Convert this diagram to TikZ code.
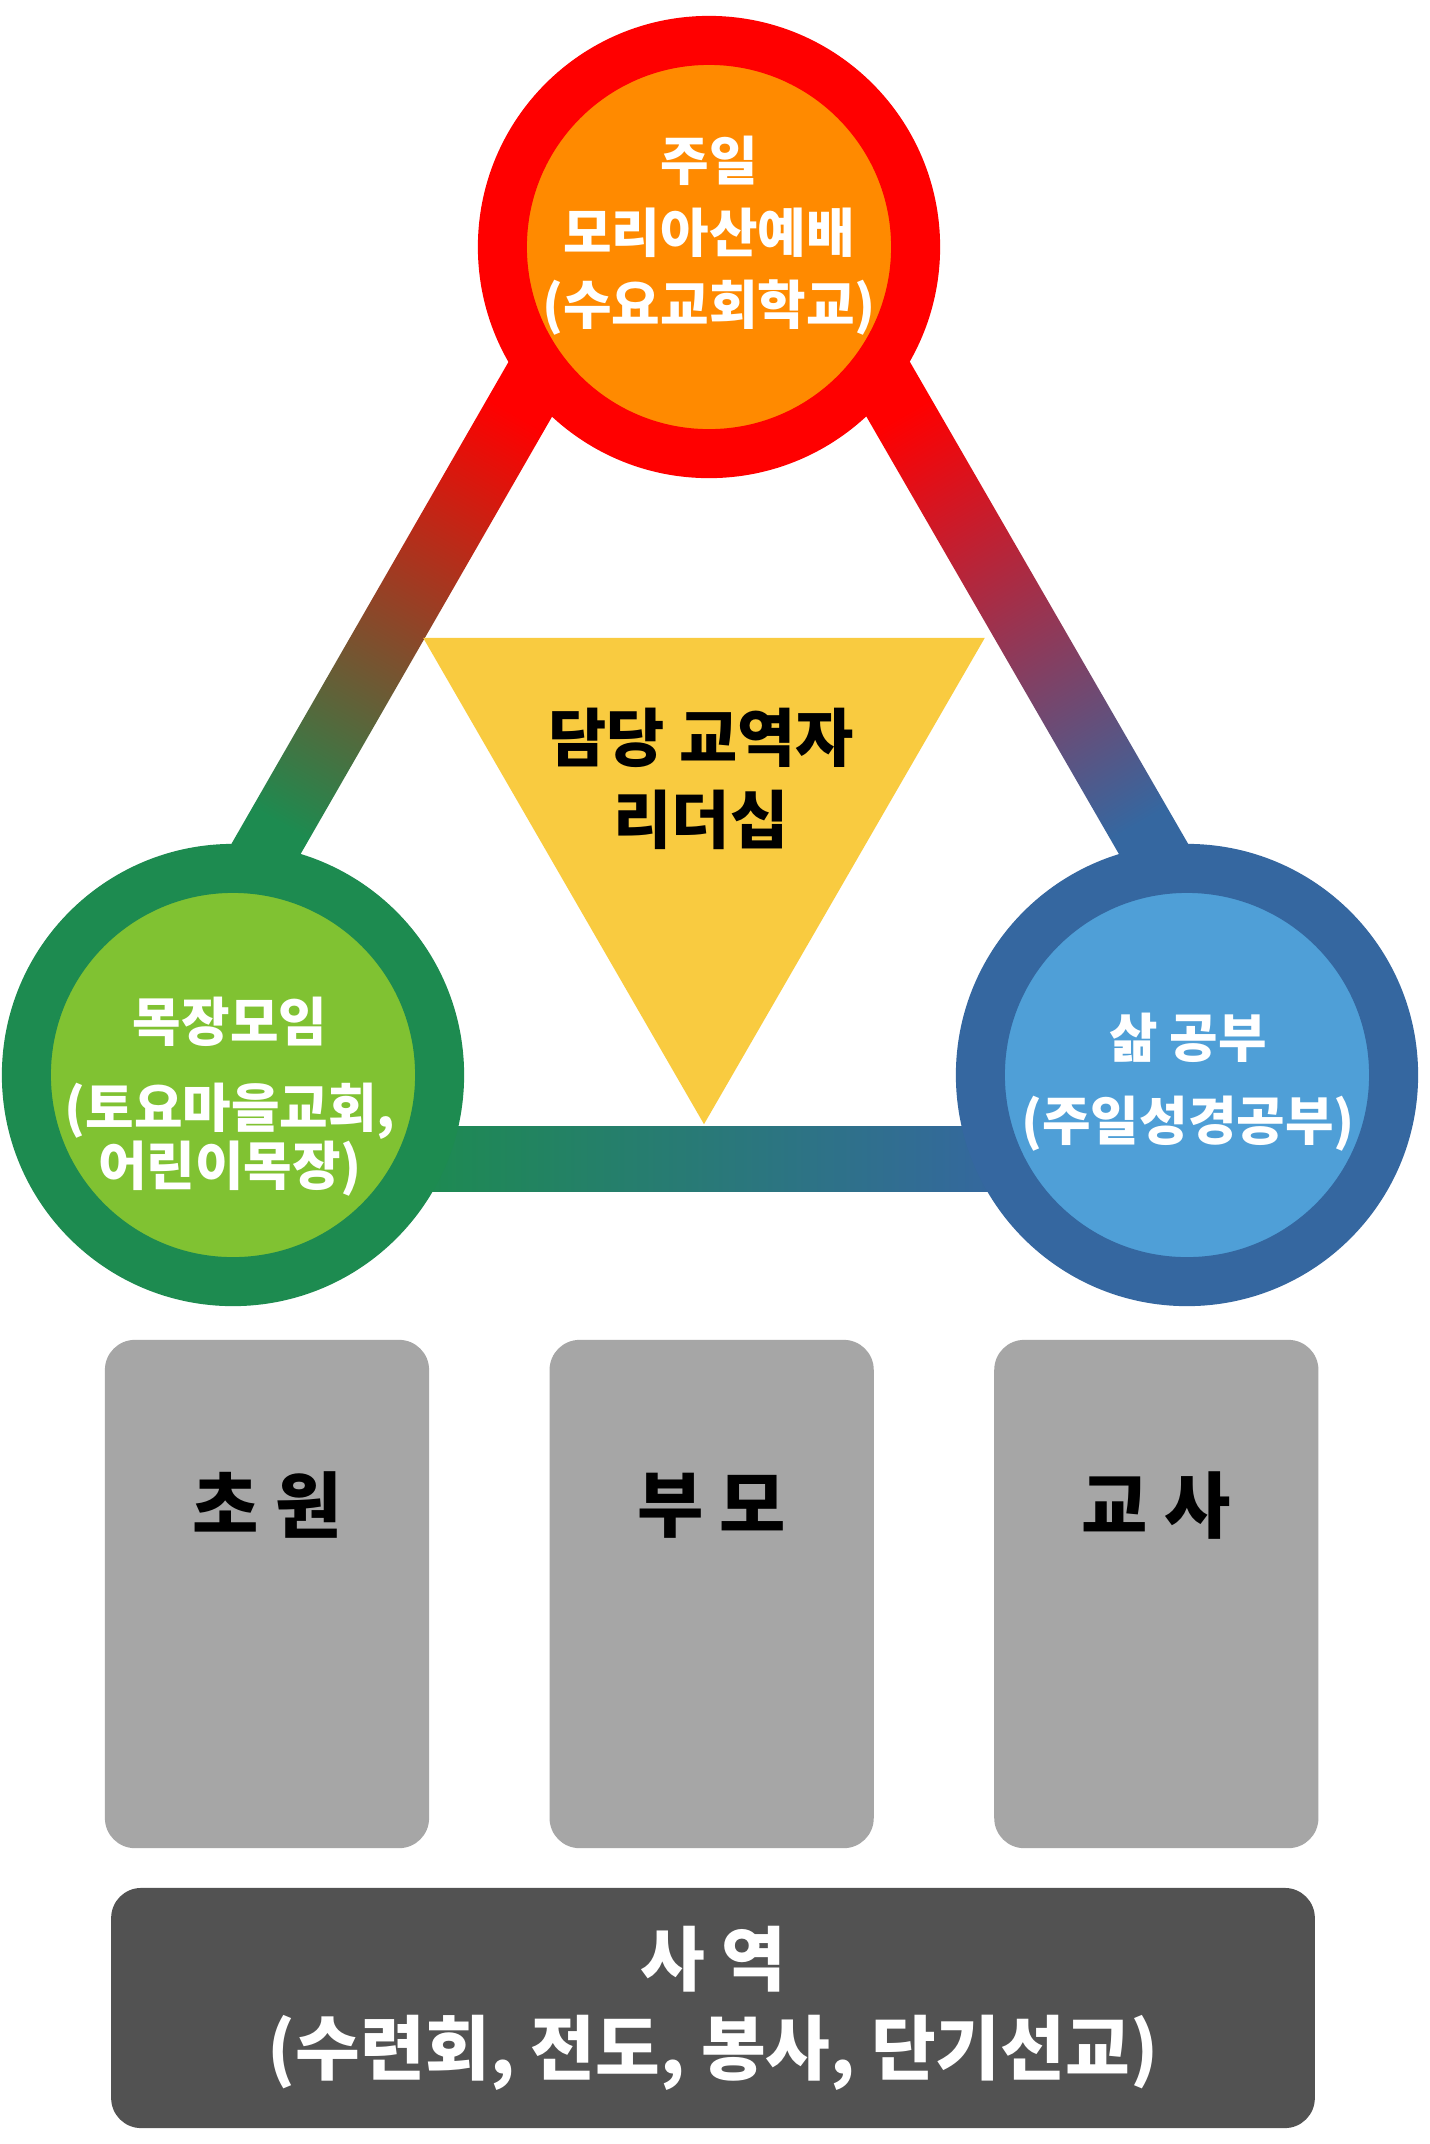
\documentclass[tikz,border=0pt]{standalone}
\usepackage{fontspec}
\usepackage{tikz}
\usetikzlibrary{positioning,calc,shapes.geometric,backgrounds}
\setmainfont{Noto Sans CJK KR}
\definecolor{RingRed}{RGB}{255,0,0}
\definecolor{CoreOrange}{RGB}{255,138,0}
\definecolor{RingGreen}{RGB}{29,139,80}
\definecolor{CoreGreen}{RGB}{128,194,50}
\definecolor{RingBlue}{RGB}{53,103,160}
\definecolor{CoreBlue}{RGB}{79,159,215}
\definecolor{LeadGold}{RGB}{249,203,64}
\definecolor{PillarGray}{RGB}{166,166,166}
\definecolor{BaseGray}{RGB}{82,82,82}

\begin{document}
\begin{tikzpicture}[
  x=0.01cm, y=-0.01cm,
  ring/.style={circle, line width=0.49cm, minimum size=4.13cm, inner sep=0pt},
  ringtxt/.style={text=white, align=center, inner sep=0pt, font=\fontsize{15}{20.5}\selectfont\bfseries},
  leadtxt/.style={text=black, align=center, inner sep=0pt, font=\fontsize{18}{23.3}\selectfont\bfseries},
  pillar/.style={rectangle, rounded corners=0.3cm, fill=PillarGray, minimum width=3.24cm, minimum height=5.08cm, inner sep=0pt},
  pillartxt/.style={text=black, inner sep=0pt, font=\fontsize{20.5}{25}\selectfont\bfseries},
  base/.style={rectangle, rounded corners=0.3cm, fill=BaseGray, minimum width=12.03cm, minimum height=2.40cm, inner sep=0pt, text=white, align=center, font=\fontsize{20}{25.3}\selectfont\bfseries},
]
\useasboundingbox (0,0) rectangle (1430,2144);
\node[ring, draw=RingRed, fill=CoreOrange] (sunday) at (709,247) {};
\node[ring, draw=RingGreen, fill=CoreGreen] (cell) at (233,1075) {};
\node[ring, draw=RingBlue, fill=CoreBlue] (study) at (1187,1075) {};
\node[regular polygon, regular polygon sides=3, shape border rotate=180, fill=LeadGold, minimum size=6.48cm, inner sep=0pt] (leader) at (704,800) {};
\begin{scope}[on background layer]
\fill[white] (0,0) rectangle (1430,2144);
\shade[top color=RingRed, bottom color=RingGreen, shading angle=-30]
  ($(cell)!0.19!(sunday)!0.515cm!90:(sunday)$) -- ($(cell)!0.19!(sunday)!1.165cm!90:(sunday)$)
  -- ($(cell)!0.81!(sunday)!1.165cm!90:(sunday)$) -- ($(cell)!0.81!(sunday)!0.515cm!90:(sunday)$) -- cycle;
\shade[top color=RingRed, bottom color=RingBlue, shading angle=30]
  ($(study)!0.19!(sunday)!0.515cm!-90:(sunday)$) -- ($(study)!0.19!(sunday)!1.165cm!-90:(sunday)$)
  -- ($(study)!0.81!(sunday)!1.165cm!-90:(sunday)$) -- ($(study)!0.81!(sunday)!0.515cm!-90:(sunday)$) -- cycle;
\shade[top color=RingBlue, bottom color=RingGreen, shading angle=-90]
  ($(cell)!0.19!(study)!0.515cm!-90:(study)$) -- ($(cell)!0.19!(study)!1.165cm!-90:(study)$)
  -- ($(cell)!0.81!(study)!1.165cm!-90:(study)$) -- ($(cell)!0.81!(study)!0.515cm!-90:(study)$) -- cycle;
\end{scope}
\node[ringtxt] (sundaytext) at (709,236) {주일\\모리아산예배\\(수요교회학교)};
\node[ringtxt] (celltext) at (230,1097) {목장모임\\[4pt](토요마을교회,\\[-4pt]어린이목장)};
\node[ringtxt] (studytext) at (1188,1082) {삶 공부\\[3pt](주일성경공부)};
\node[leadtxt] (leadertext) at (701,779) {담당 교역자\\리더십};
\node[pillar] (chowon) at (267,1594) {};
\node[pillar, right=1.19cm of chowon] (bumo) {};
\node[pillar, right=1.19cm of bumo] (gyosa) {};
\node[pillartxt] (chowontext) at ([yshift=-1.66cm]chowon.north) {초 원};
\node[pillartxt] (bumotext) at ([yshift=-1.66cm]bumo.north) {부 모};
\node[pillartxt] (gyosatext) at ([yshift=-1.66cm]gyosa.north) {교 사};
\node[base] (ministry) at (713,2008) {사 역\\(수련회, 전도, 봉사, 단기선교)};
\end{tikzpicture}
\end{document}
